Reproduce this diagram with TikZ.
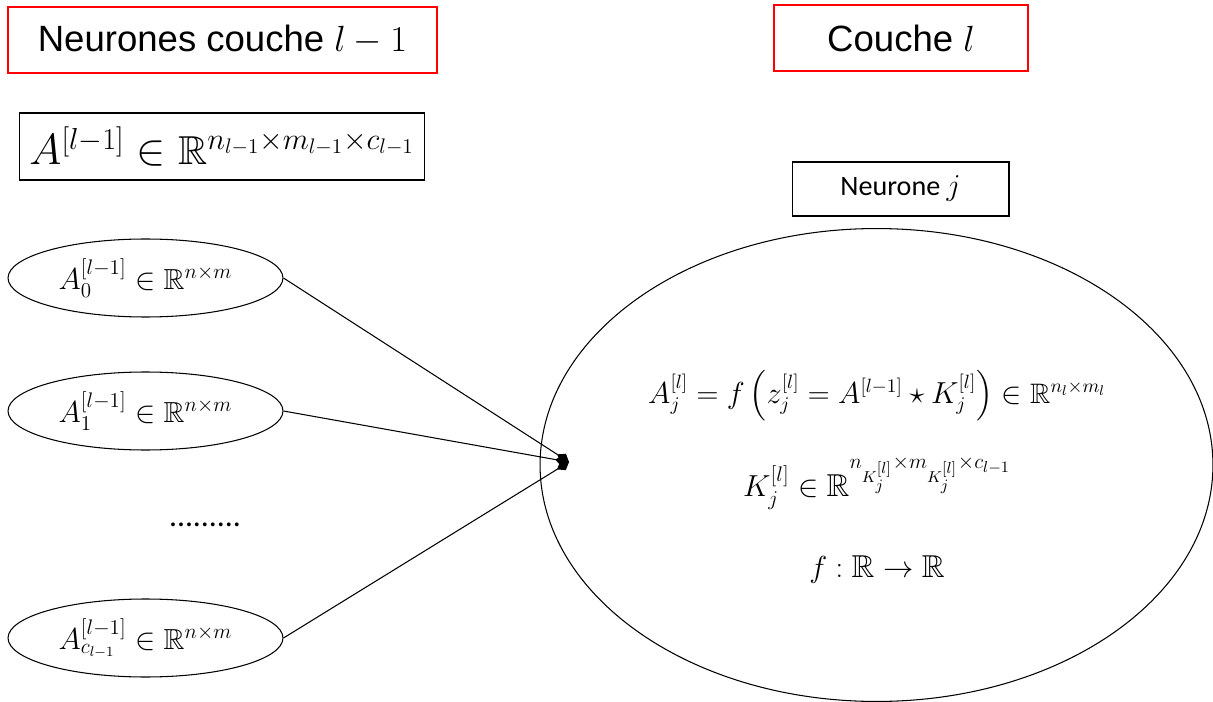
\documentclass[tikz,border=0pt]{standalone}
\usepackage{amssymb}
\usepackage{fontspec}
\newfontfamily\arialf{Liberation Sans}
\newfontfamily\calibf{Carlito}
\usetikzlibrary{shapes.geometric,arrows.meta}
\definecolor{pptred}{RGB}{255,0,0}
\begin{document}
\begin{tikzpicture}[x=0.02cm,y=-0.02cm,
  redbox/.style={draw=pptred,line width=1.1pt,inner sep=0pt,minimum height=1.32cm},
  blackbox/.style={draw=black,line width=0.6pt,inner sep=0pt},
  smallell/.style={draw=black,line width=0.6pt,ellipse,inner sep=0pt,minimum width=5.5cm,minimum height=1.56cm,font=\fontsize{16.5}{19}\selectfont},
  bigell/.style={draw=black,line width=0.6pt,ellipse,inner sep=0pt,minimum width=13.46cm,minimum height=9.46cm},
  link/.style={line width=0.6pt,-{Diamond[length=8pt,width=6pt]}},
  mathtxt/.style={font=\fontsize{16}{19}\selectfont,inner sep=0pt}]
\useasboundingbox (0,0) rectangle (1213,702);
% titles
\node[redbox,minimum width=8.58cm,font=\arialf\fontsize{20.8}{24}\selectfont] (t1) at (222.5,40) {Neurones couche $l-1$};
\node[redbox,minimum width=5.08cm,font=\arialf\fontsize{20.8}{24}\selectfont] (t2) at (901,38) {Couche $l$};
% boxes
\node[blackbox,minimum width=8.12cm,minimum height=1.34cm,font=\fontsize{23}{26}\selectfont] (abox) at (222,146.5) {$A^{[l-1]}\in\mathbb{R}^{n_{l-1}\times m_{l-1}\times c_{l-1}}$};
\node[blackbox,minimum width=4.34cm,minimum height=1.08cm,font=\calibf\fontsize{16}{19}\selectfont] (nj) at (900.5,189) {Neurone $j$};
% small ellipses
\node[smallell] (e0) at (145.5,278) {$A_0^{[l-1]}\in\mathbb{R}^{n\times m}$};
\node[smallell] (e1) at (145.5,411) {$A_1^{[l-1]}\in\mathbb{R}^{n\times m}$};
\node[smallell] (ec) at (145.5,638) {$A_{c_{l-1}}^{[l-1]}\in\mathbb{R}^{n\times m}$};
\node[font=\calibf\fontsize{18}{20}\selectfont,inner sep=0pt] (dots) at (205,525) {.........};
% big ellipse
\node[bigell] (big) at (876.5,465) {};
\node[mathtxt] (eq1) at (877,396) {$A_j^{[l]}=f\left(z_j^{[l]}=A^{[l-1]}\star K_j^{[l]}\right)\in\mathbb{R}^{n_l\times m_l}$};
\node[mathtxt,font=\fontsize{18}{21}\selectfont] (eq2) at (877,483) {$K_j^{[l]}\in\mathbb{R}^{n_{K_j^{[l]}}\times m_{K_j^{[l]}}\times c_{l-1}}$};
\node[mathtxt,font=\fontsize{18}{21}\selectfont] (eq3) at (877,570) {$f:\mathbb{R}\to\mathbb{R}$};
% connectors
\coordinate (m) at (569,462);
\draw[link] (e0.east) -- (m);
\draw[link] (e1.east) -- (m);
\draw[link] (ec.east) -- (m);
\end{tikzpicture}
\end{document}
